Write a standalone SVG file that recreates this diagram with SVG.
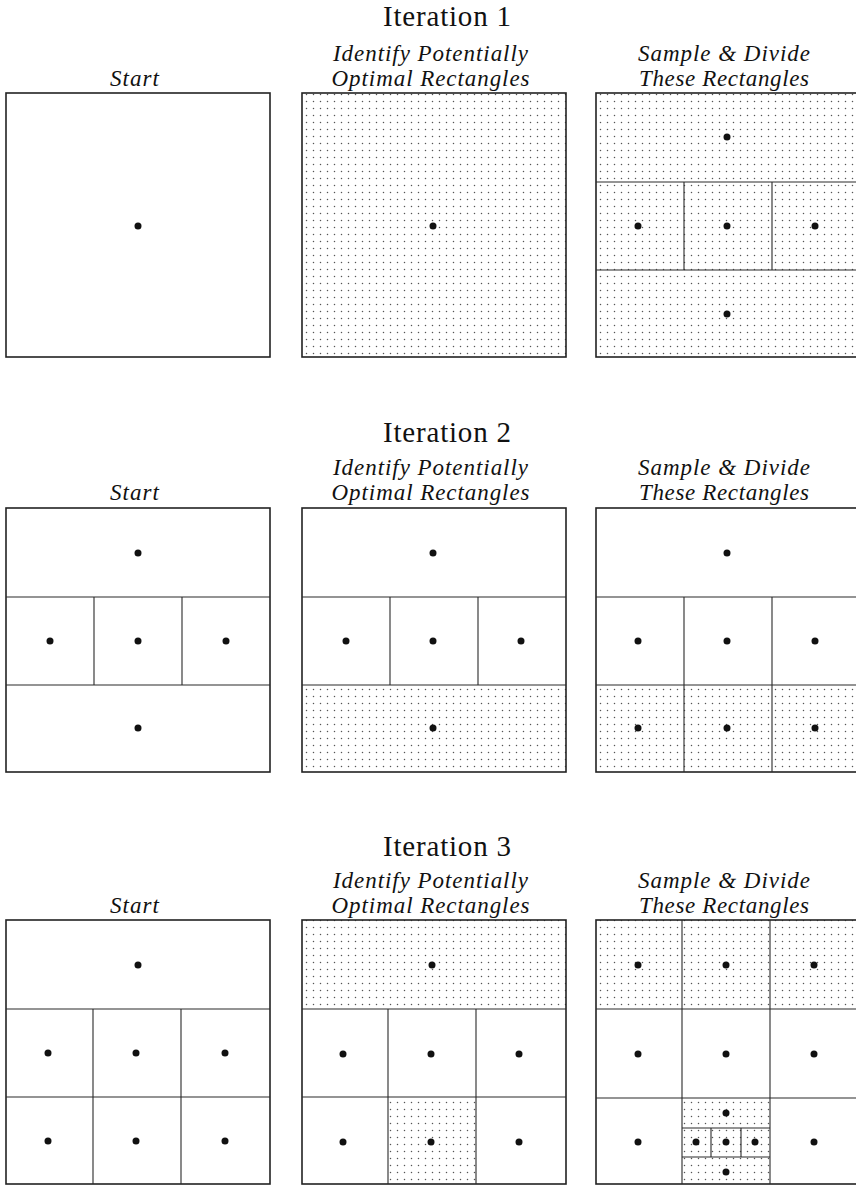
<svg xmlns="http://www.w3.org/2000/svg" width="856" height="1185" viewBox="0 0 856 1185">
<style>
.title{font-family:"Liberation Serif","Times New Roman",serif;font-size:29px;fill:#111;text-anchor:middle}
.lbl{font-family:"Liberation Serif","Times New Roman",serif;font-style:italic;font-size:23px;fill:#111;text-anchor:middle}
.box{fill:none;stroke:#222;stroke-width:1.6}
.ln{fill:none;stroke:#2a2a2a;stroke-width:1.1}
.pt{fill:#111}
.dotted{fill:url(#grid);stroke:none}
</style>
<defs>
<pattern id="grid" patternUnits="userSpaceOnUse" x="2" y="0" width="7" height="7">
<circle cx="3.5" cy="3.5" r="0.75" fill="#555"/>
</pattern>
</defs>
<rect width="856" height="1185" fill="#fff"/>

<!-- Iteration 1 -->
<g id="iter1-headings">
<text class="title" x="447" y="26" textLength="128">Iteration 1</text>
<text class="lbl" x="134.5" y="86" textLength="49">Start</text>
<text class="lbl" x="430.5" y="61" textLength="195">Identify Potentially</text>
<text class="lbl" x="430.5" y="86" textLength="198">Optimal Rectangles</text>
<text class="lbl" x="724" y="61" textLength="172">Sample &amp; Divide</text>
<text class="lbl" x="724" y="86" textLength="170">These Rectangles</text>
</g>
<g id="iter1-start">
<rect class="box" x="6" y="93" width="264" height="264"/>
<circle class="pt" cx="138" cy="226" r="3.5"/>
</g>
<g id="iter1-identify">
<rect class="dotted" x="302" y="93" width="264" height="264"/>
<rect class="box" x="302" y="93" width="264" height="264"/>
<circle class="pt" cx="433" cy="226" r="3.5"/>
</g>
<g id="iter1-divide">
<rect class="dotted" x="596" y="93" width="264" height="264"/>
<rect class="box" x="596" y="93" width="264" height="264"/>
<path class="ln" d="M596 182H860M596 270H860M684 182V270M772 182V270"/>
<circle class="pt" cx="727" cy="137" r="3.5"/>
<circle class="pt" cx="638" cy="226" r="3.5"/>
<circle class="pt" cx="727" cy="226" r="3.5"/>
<circle class="pt" cx="815" cy="226" r="3.5"/>
<circle class="pt" cx="727" cy="314" r="3.5"/>
</g>

<!-- Iteration 2 -->
<g id="iter2-headings">
<text class="title" x="447" y="442" textLength="128">Iteration 2</text>
<text class="lbl" x="134.5" y="500" textLength="49">Start</text>
<text class="lbl" x="430.5" y="475" textLength="195">Identify Potentially</text>
<text class="lbl" x="430.5" y="500" textLength="198">Optimal Rectangles</text>
<text class="lbl" x="724" y="475" textLength="172">Sample &amp; Divide</text>
<text class="lbl" x="724" y="500" textLength="170">These Rectangles</text>
</g>
<g id="iter2-start">
<rect class="box" x="6" y="508" width="264" height="264"/>
<path class="ln" d="M6 597H270M6 685H270M94 597V685M182 597V685"/>
<circle class="pt" cx="138" cy="553" r="3.5"/>
<circle class="pt" cx="50" cy="641" r="3.5"/>
<circle class="pt" cx="138" cy="641" r="3.5"/>
<circle class="pt" cx="226" cy="641" r="3.5"/>
<circle class="pt" cx="138" cy="728" r="3.5"/>
</g>
<g id="iter2-identify">
<rect class="dotted" x="302" y="685" width="264" height="87"/>
<rect class="box" x="302" y="508" width="264" height="264"/>
<path class="ln" d="M302 597H566M302 685H566M390 597V685M478 597V685"/>
<circle class="pt" cx="433" cy="553" r="3.5"/>
<circle class="pt" cx="346" cy="641" r="3.5"/>
<circle class="pt" cx="433" cy="641" r="3.5"/>
<circle class="pt" cx="521" cy="641" r="3.5"/>
<circle class="pt" cx="433" cy="728" r="3.5"/>
</g>
<g id="iter2-divide">
<rect class="dotted" x="596" y="685" width="264" height="87"/>
<rect class="box" x="596" y="508" width="264" height="264"/>
<path class="ln" d="M596 597H860M596 685H860M684 597V772M772 597V772"/>
<circle class="pt" cx="727" cy="553" r="3.5"/>
<circle class="pt" cx="638" cy="641" r="3.5"/>
<circle class="pt" cx="727" cy="641" r="3.5"/>
<circle class="pt" cx="815" cy="641" r="3.5"/>
<circle class="pt" cx="638" cy="728" r="3.5"/>
<circle class="pt" cx="727" cy="728" r="3.5"/>
<circle class="pt" cx="815" cy="728" r="3.5"/>
</g>

<!-- Iteration 3 -->
<g id="iter3-headings">
<text class="title" x="447" y="856" textLength="128">Iteration 3</text>
<text class="lbl" x="134.5" y="913" textLength="49">Start</text>
<text class="lbl" x="430.5" y="888" textLength="195">Identify Potentially</text>
<text class="lbl" x="430.5" y="913" textLength="198">Optimal Rectangles</text>
<text class="lbl" x="724" y="888" textLength="172">Sample &amp; Divide</text>
<text class="lbl" x="724" y="913" textLength="170">These Rectangles</text>
</g>
<g id="iter3-start">
<rect class="box" x="6" y="920" width="264" height="264"/>
<path class="ln" d="M6 1009H270M6 1097H270M93 1009V1184M181 1009V1184"/>
<circle class="pt" cx="138" cy="965" r="3.5"/>
<circle class="pt" cx="48" cy="1053" r="3.5"/>
<circle class="pt" cx="136" cy="1053" r="3.5"/>
<circle class="pt" cx="225" cy="1053" r="3.5"/>
<circle class="pt" cx="48" cy="1141" r="3.5"/>
<circle class="pt" cx="136" cy="1141" r="3.5"/>
<circle class="pt" cx="225" cy="1141" r="3.5"/>
</g>
<g id="iter3-identify">
<rect class="dotted" x="302" y="920" width="264" height="89"/>
<rect class="dotted" x="388" y="1097" width="88" height="87"/>
<rect class="box" x="302" y="920" width="264" height="264"/>
<path class="ln" d="M302 1009H566M302 1097H566M388 1009V1184M476 1009V1184"/>
<circle class="pt" cx="432" cy="965" r="3.5"/>
<circle class="pt" cx="343" cy="1054" r="3.5"/>
<circle class="pt" cx="431" cy="1054" r="3.5"/>
<circle class="pt" cx="519" cy="1054" r="3.5"/>
<circle class="pt" cx="343" cy="1142" r="3.5"/>
<circle class="pt" cx="431" cy="1142" r="3.5"/>
<circle class="pt" cx="519" cy="1142" r="3.5"/>
</g>
<g id="iter3-divide">
<rect class="dotted" x="596" y="920" width="264" height="89"/>
<rect class="dotted" x="682" y="1098" width="90" height="86"/>
<rect class="box" x="596" y="920" width="264" height="264"/>
<path class="ln" d="M596 1009H860M596 1098H860M682 920V1184M770 920V1184"/>
<path class="ln" d="M682 1128H770M682 1157H770M711 1128V1157M741 1128V1157"/>
<circle class="pt" cx="638" cy="965" r="3.5"/>
<circle class="pt" cx="726" cy="965" r="3.5"/>
<circle class="pt" cx="814" cy="965" r="3.5"/>
<circle class="pt" cx="638" cy="1054" r="3.5"/>
<circle class="pt" cx="726" cy="1054" r="3.5"/>
<circle class="pt" cx="814" cy="1054" r="3.5"/>
<circle class="pt" cx="638" cy="1142" r="3.5"/>
<circle class="pt" cx="814" cy="1142" r="3.5"/>
<circle class="pt" cx="726" cy="1113" r="3.5"/>
<circle class="pt" cx="696" cy="1142" r="3.5"/>
<circle class="pt" cx="726" cy="1142" r="3.5"/>
<circle class="pt" cx="755" cy="1142" r="3.5"/>
<circle class="pt" cx="726" cy="1172" r="3.5"/>
</g>
</svg>
